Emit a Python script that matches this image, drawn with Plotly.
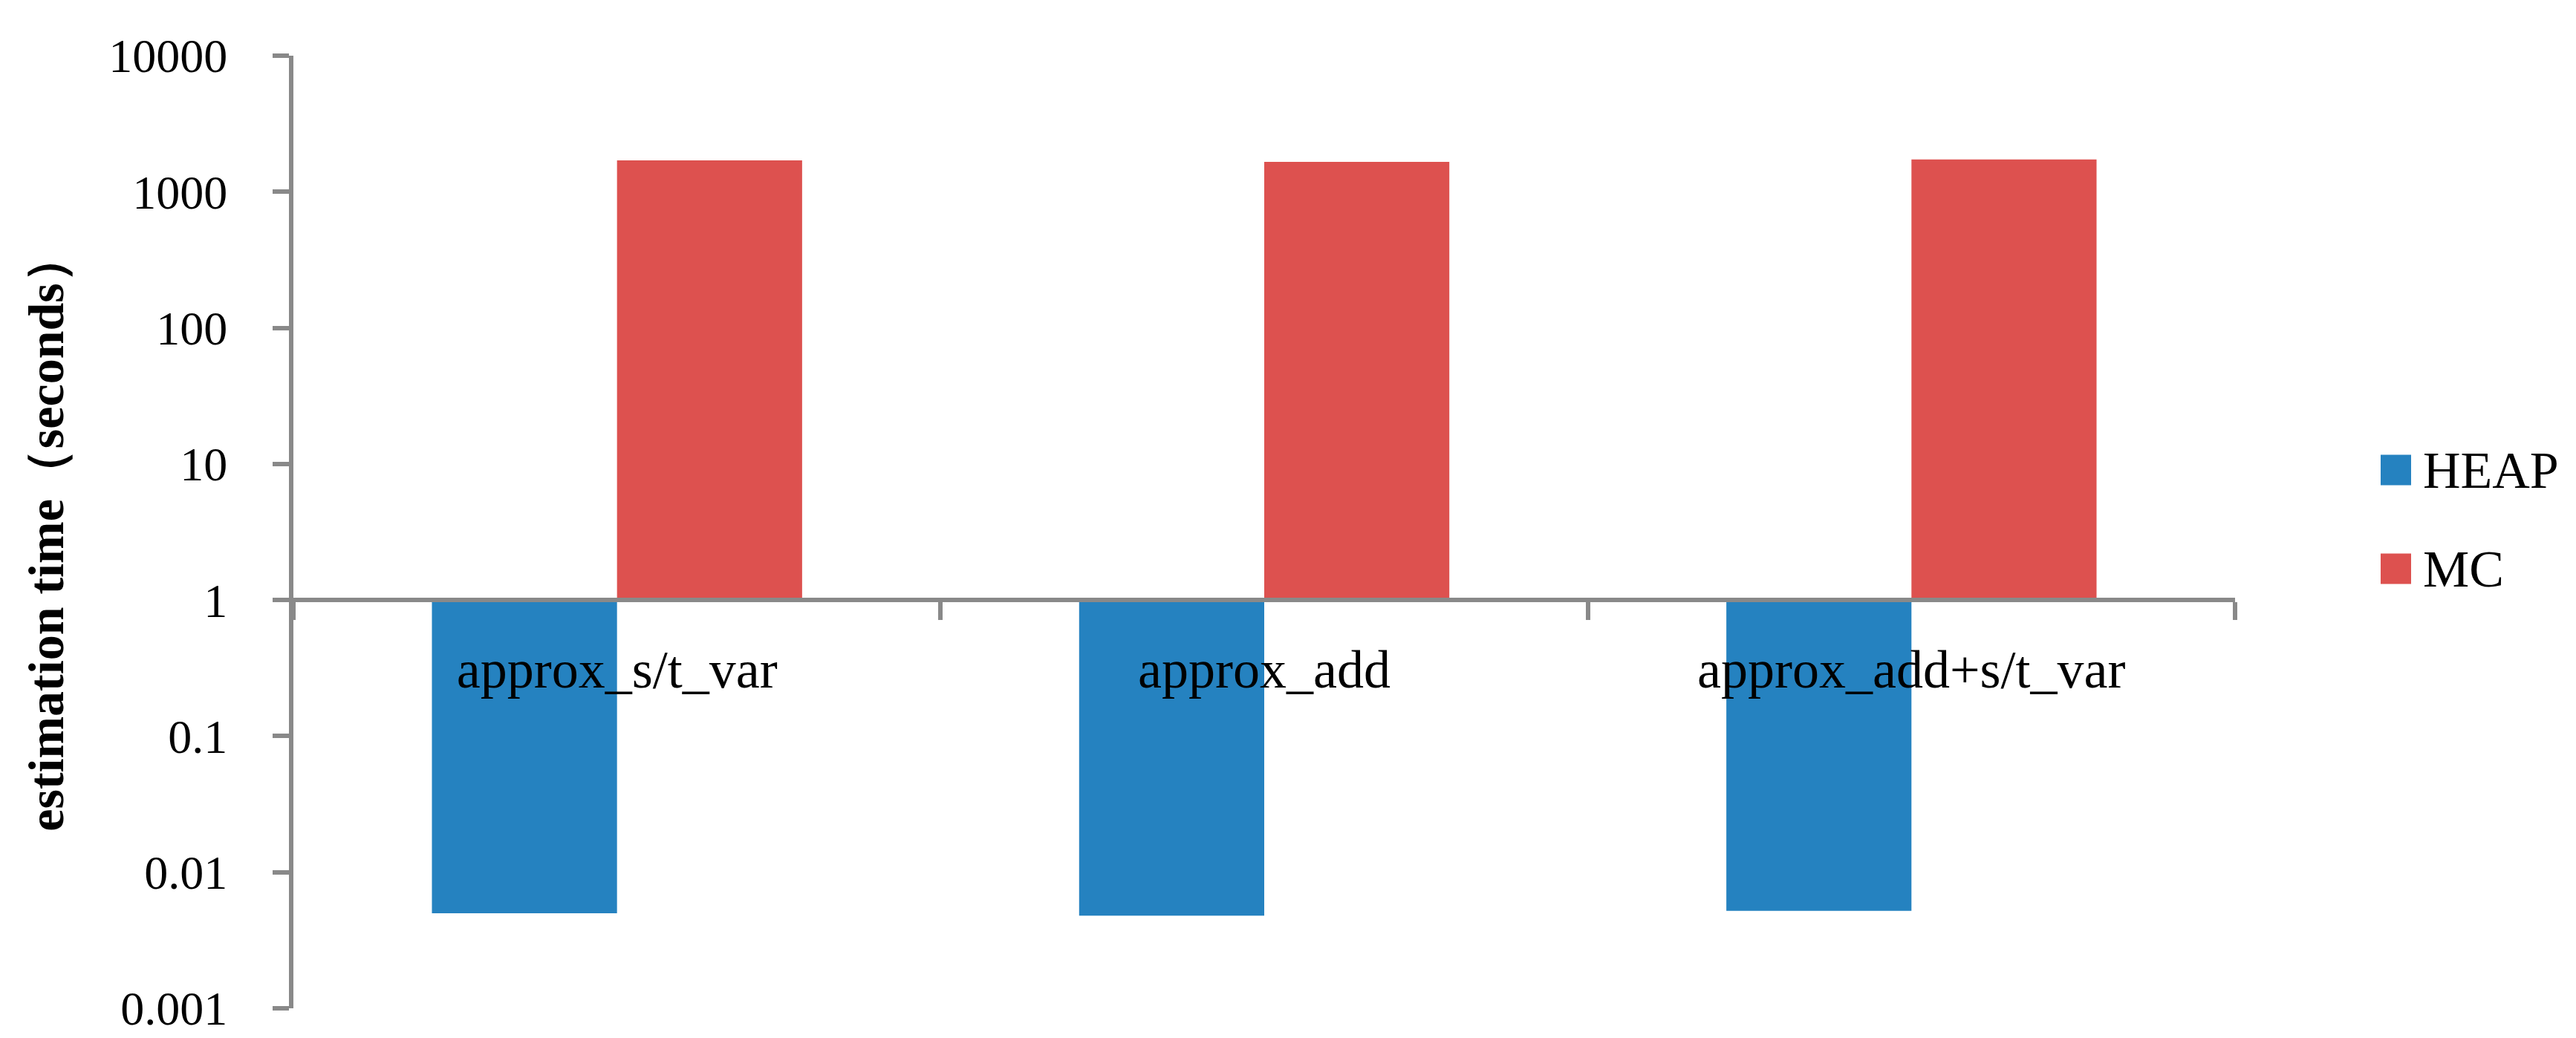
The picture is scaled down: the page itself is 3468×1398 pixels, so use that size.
import numpy as np
import plotly.graph_objects as go

# data (log scale, bars grow from 1)
categories = ["approx_s/t_var", "approx_add", "approx_add+s/t_var"]
heap_time = [0.0050, 0.0048, 0.0052]
mc_time = [1700, 1660, 1730]
series_names = ["HEAP", "MC"]
series_colors = ["#2582C0", "#DD514F"]

y_tickvals = [0.001, 0.01, 0.1, 1, 10, 100, 1000, 10000]
y_ticktext = ["0.001", "0.01", "0.1", "1", "10", "100", "1000", "10000"]
y_title = "estimation time（seconds）"

BASE = 1.0
AXIS_GREY = "#898989"
FONT = "Liberation Serif"

W, H = 3468, 1398
M = dict(l=387, r=467, t=67, b=48)

log_lo, log_hi = np.log10(min(y_tickvals)), np.log10(max(y_tickvals))

fig = go.Figure()
for name, vals, col in zip(series_names, [heap_time, mc_time], series_colors):
    v = np.array(vals, dtype=float)
    fig.add_trace(go.Bar(
        x=categories,
        y=v - BASE,
        base=[BASE] * len(v),
        name=name,
        marker=dict(color=col, line=dict(width=0)),
        customdata=v,
        hovertemplate="%{x}<br>" + name + ": %{customdata}<extra></extra>",
        showlegend=False,
    ))

fig.update_layout(
    width=W, height=H,
    margin=M,
    paper_bgcolor="white",
    plot_bgcolor="white",
    barmode="group",
    bargap=0.428,
    bargroupgap=0,
    font=dict(family=FONT, color="black"),
    showlegend=False,
)

fig.update_yaxes(
    type="log",
    range=[log_lo, log_hi],
    tickvals=y_tickvals,
    ticktext=y_ticktext,
    tickfont=dict(size=64, family=FONT, color="black"),
    showgrid=False,
    zeroline=False,
    showline=True, linecolor=AXIS_GREY, linewidth=6,
    ticks="outside", ticklen=22, tickwidth=6, tickcolor=AXIS_GREY,
    ticklabelstandoff=48,
    title=dict(text="<b>" + y_title + "</b>", font=dict(size=68, family=FONT, color="black"), standoff=40),
    automargin=False,
)

# category axis sits on the y=1 line
fig.update_xaxes(
    anchor="free",
    position=(np.log10(BASE) - log_lo) / (log_hi - log_lo),
    range=[-0.5, len(categories) - 0.5],
    tickson="boundaries",
    tickfont=dict(size=72, family=FONT, color="black"),
    showgrid=False,
    zeroline=False,
    showline=True, linecolor=AXIS_GREY, linewidth=6,
    ticks="outside", ticklen=24, tickwidth=6, tickcolor=AXIS_GREY,
    ticklabelstandoff=28,
    automargin=False,
)

# legend with large square keys, stacked next to the plot
plot_w = W - M["l"] - M["r"]
plot_h = H - M["t"] - M["b"]
key = 41
key_x0 = 1 + (3197 - (W - M["r"])) / plot_w
legend_ypx = [625, 758]
for name, col, ypx in zip(series_names, series_colors, legend_ypx):
    yc = (H - M["b"] - ypx) / plot_h
    fig.add_shape(
        type="rect", xref="paper", yref="paper",
        x0=key_x0, x1=key_x0 + key / plot_w,
        y0=yc - key / 2 / plot_h, y1=yc + key / 2 / plot_h,
        fillcolor=col, line=dict(width=0),
    )
    fig.add_annotation(
        xref="paper", yref="paper",
        x=key_x0 + (key + 14) / plot_w, y=yc,
        xanchor="left", yanchor="middle",
        text=name, showarrow=False,
        font=dict(size=70, family=FONT, color="black"),
    )

fig.write_html("out.html")
